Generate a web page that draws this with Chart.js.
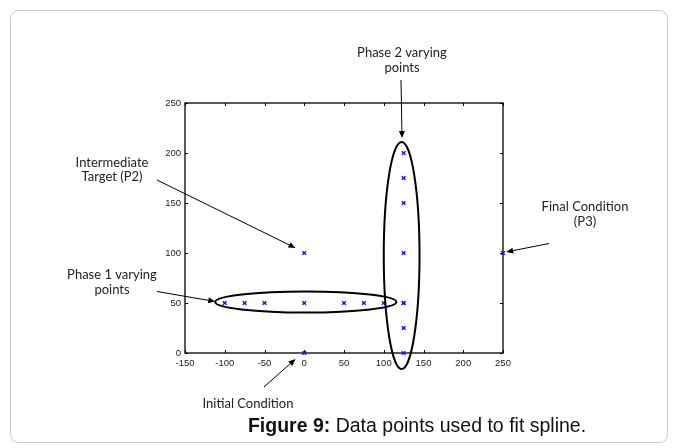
<!DOCTYPE html>
<html>
<head>
<meta charset="utf-8">
<script src="https://cdn.jsdelivr.net/npm/chart.js@4.4.0/dist/chart.umd.min.js"></script>
<style>
  html, body { margin: 0; padding: 0; background: #ffffff; }
  #wrap { width: 678px; height: 448px; position: relative; }
</style>
</head>
<body>
<div id="wrap"><canvas id="c" width="678" height="448"></canvas></div>
<script>
// ---- data ----
const phase1X = [-100, -75, -50, 0, 50, 75, 100, 125];
const phase1Y = [50, 50, 50, 50, 50, 50, 50, 50];
const phase2X = [125, 125, 125, 125, 125, 125, 125];
const phase2Y = [0, 25, 50, 100, 150, 175, 200];
const keyX = [0, 0, 250];
const keyY = [0, 100, 100];
const xTicks = [-150, -100, -50, 0, 50, 100, 150, 200, 250];
const yTicks = [0, 50, 100, 150, 200, 250];

function pts(xs, ys) { return xs.map((x, i) => ({ x: x, y: ys[i] })); }

const markerStyle = {
  pointStyle: 'crossRot',
  pointRadius: 2.6,
  pointBorderWidth: 1.4,
  borderColor: '#1010ff',
  backgroundColor: '#1010ff',
  showLine: false,
  clip: false
};

const frame = {
  id: 'frame',
  beforeDatasetsDraw(chart) {
    const ctx = chart.ctx;
    const xs = chart.scales.x, ys = chart.scales.y;
    const a = chart.chartArea;
    const px = v => xs.getPixelForValue(v);
    const py = v => ys.getPixelForValue(v);
    ctx.save();
    ctx.strokeStyle = '#000';
    ctx.lineWidth = 1.3;
    ctx.strokeRect(a.left, a.top, a.right - a.left, a.bottom - a.top);
    ctx.lineWidth = 1;
    ctx.beginPath();
    xTicks.forEach(v => {
      const x = Math.round(px(v)) + 0.5;
      ctx.moveTo(x, a.bottom); ctx.lineTo(x, a.bottom - 3);
      ctx.moveTo(x, a.top); ctx.lineTo(x, a.top + 3);
    });
    yTicks.forEach(v => {
      const y = Math.round(py(v)) + 0.5;
      ctx.moveTo(a.left, y); ctx.lineTo(a.left + 3, y);
      ctx.moveTo(a.right, y); ctx.lineTo(a.right - 3, y);
    });
    ctx.stroke();
    ctx.restore();
  }
};

const annotations = {
  id: 'annotations',
  afterDraw(chart) {
    const ctx = chart.ctx;
    const xs = chart.scales.x, ys = chart.scales.y;
    const px = v => xs.getPixelForValue(v);
    const py = v => ys.getPixelForValue(v);
    ctx.save();

    // ellipses (data coordinates)
    function ell(cx, cy, rx, ry) {
      const x0 = px(cx), y0 = py(cy);
      const rpx = Math.abs(px(cx + rx) - x0), rpy = Math.abs(py(cy + ry) - y0);
      ctx.beginPath();
      ctx.ellipse(x0, y0, rpx, rpy, 0, 0, Math.PI * 2);
      ctx.lineWidth = 2;
      ctx.strokeStyle = '#000';
      ctx.stroke();
    }
    ell(2, 51, 114, 10.5);
    ell(122.5, 97.5, 22.5, 113.5);

    // arrows
    function arrow(x1, y1, x2, y2) {
      ctx.strokeStyle = '#000';
      ctx.fillStyle = '#000';
      ctx.lineWidth = 1;
      const ang = Math.atan2(y2 - y1, x2 - x1);
      const L = 7, W = 3;
      const bx = x2 - L * Math.cos(ang), by = y2 - L * Math.sin(ang);
      ctx.beginPath();
      ctx.moveTo(x1, y1); ctx.lineTo(bx, by);
      ctx.stroke();
      ctx.beginPath();
      ctx.moveTo(x2, y2);
      ctx.lineTo(bx + W * Math.sin(ang), by - W * Math.cos(ang));
      ctx.lineTo(bx - W * Math.sin(ang), by + W * Math.cos(ang));
      ctx.closePath();
      ctx.fill();
    }
    arrow(401, 80, px(123), py(215));          // phase 2
    arrow(157, 180, px(-11), py(105));        // intermediate target
    arrow(157, 291.5, px(-112), py(51.5));    // phase 1
    arrow(264, 387, px(-11), py(-6));         // initial
    arrow(549, 243.5, px(254), py(101));      // final

    // labels
    ctx.fillStyle = '#222';
    ctx.font = '13px Lato, "Open Sans", sans-serif';
    ctx.textAlign = 'center';
    ctx.textBaseline = 'middle';
    const lab = (t, x, y) => ctx.fillText(t, x, y);
    lab('Phase 2 varying', 402, 53);
    lab('points', 402, 68);
    lab('Intermediate', 112, 163);
    lab('Target (P2)', 112, 177);
    lab('Phase 1 varying', 112, 275);
    lab('points', 112, 290);
    lab('Final Condition', 585, 207);
    lab('(P3)', 585, 222);
    lab('Initial Condition', 248, 404);

    // caption
    const cap1 = 'Figure 9:';
    const cap2 = ' Data points used to fit spline.';
    const fs = 19.5;
    ctx.fillStyle = '#111';
    ctx.textAlign = 'left';
    ctx.font = 'bold ' + fs + 'px "Liberation Sans", Arial, sans-serif';
    const w1 = ctx.measureText(cap1).width;
    ctx.font = fs + 'px "Liberation Sans", Arial, sans-serif';
    const w2 = ctx.measureText(cap2).width;
    const sx = 417 - (w1 + w2) / 2;
    ctx.font = 'bold ' + fs + 'px "Liberation Sans", Arial, sans-serif';
    ctx.fillText(cap1, sx, 427);
    ctx.font = fs + 'px "Liberation Sans", Arial, sans-serif';
    ctx.fillText(cap2, sx + w1, 427);

    // outer rounded frame
    ctx.strokeStyle = '#c8c8c8';
    ctx.lineWidth = 1;
    ctx.beginPath();
    ctx.roundRect(10.5, 10.5, 657, 432, 8);
    ctx.stroke();
    ctx.restore();
  }
};

new Chart(document.getElementById('c'), {
  type: 'scatter',
  data: {
    datasets: [
      Object.assign({ label: 'Phase 1', data: pts(phase1X, phase1Y) }, markerStyle),
      Object.assign({ label: 'Phase 2', data: pts(phase2X, phase2Y) }, markerStyle),
      Object.assign({ label: 'Key points', data: pts(keyX, keyY) }, markerStyle)
    ]
  },
  options: {
    responsive: false,
    animation: false,
    devicePixelRatio: 1,
    layout: { padding: { left: 0, right: 175, top: 103, bottom: 0 } },
    plugins: { legend: { display: false }, tooltip: { enabled: false } },
    scales: {
      x: {
        type: 'linear', min: -150, max: 250,
        afterBuildTicks: s => { s.ticks = xTicks.map(v => ({ value: v })); },
        afterFit: s => { s.height = 95; },
        grid: { display: false, drawTicks: false },
        border: { display: false },
        ticks: { color: '#222', padding: 5, maxRotation: 0, autoSkip: false,
                 font: { family: '"Liberation Sans", Arial, sans-serif', size: 9.5 } }
      },
      y: {
        type: 'linear', min: 0, max: 250,
        afterBuildTicks: s => { s.ticks = yTicks.map(v => ({ value: v })); },
        afterFit: s => { s.width = 185; },
        grid: { display: false, drawTicks: false },
        border: { display: false },
        ticks: { color: '#222', padding: 4, autoSkip: false,
                 font: { family: '"Liberation Sans", Arial, sans-serif', size: 9.5 } }
      }
    }
  },
  plugins: [frame, annotations]
});
</script>
</body>
</html>
